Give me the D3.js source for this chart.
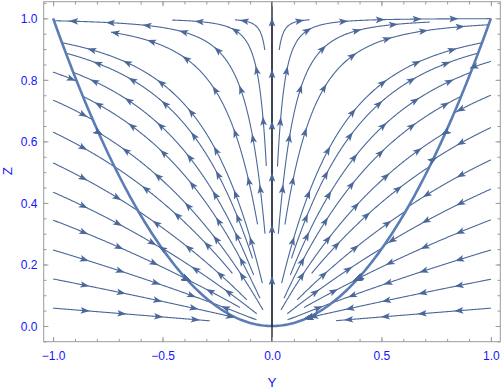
<!DOCTYPE html>
<html>
<head>
<meta charset="utf-8">
<script src="https://cdn.jsdelivr.net/npm/d3@7"></script>
<style>
  body { margin: 0; background: #fff; }
  svg { display: block; }
  text { font-family: "Liberation Sans", Arial, sans-serif; }
</style>
</head>
<body>
<div id="chart"></div>
<script>
const width = 501, height = 392;

// tick values and labels
const xMajor = [-1, -0.5, 0, 0.5, 1];
const xLabels = ["\u22121.0", "\u22120.5", "0.0", "0.5", "1.0"];
const xMinor = [-1, -0.9, -0.8, -0.7, -0.6, -0.5, -0.4, -0.3, -0.2, -0.1, 0,
                0.1, 0.2, 0.3, 0.4, 0.5, 0.6, 0.7, 0.8, 0.9, 1];
const zMajor = [0, 0.2, 0.4, 0.6, 0.8, 1.0];
const zLabels = ["0.0", "0.2", "0.4", "0.6", "0.8", "1.0"];
const zMinor = [-0.05, 0, 0.05, 0.1, 0.15, 0.2, 0.25, 0.3, 0.35, 0.4, 0.45, 0.5,
                0.55, 0.6, 0.65, 0.7, 0.75, 0.8, 0.85, 0.9, 0.95, 1, 1.05];

// streamlines: [Y start, Z start, Y end, Z end], in flow direction
const outerLeft = [
  [-1, 0.825, -0.892, 0.795], [-1, 0.734, -0.818, 0.669], [-1, 0.630, -0.720, 0.518],
  [-1, 0.530, -0.612, 0.374], [-1, 0.435, -0.501, 0.251], [-1, 0.344, -0.391, 0.153],
  [-1, 0.247, -0.274, 0.075], [-1, 0.153, -0.164, 0.027], [-1, 0.058, -0.284, 0.017]
];
const outerRight = [
  [1, 0.860, 0.917, 0.841], [1, 0.750, 0.832, 0.692], [1, 0.645, 0.735, 0.540],
  [1, 0.540, 0.623, 0.388], [1, 0.445, 0.513, 0.263], [1, 0.345, 0.392, 0.154],
  [1, 0.247, 0.274, 0.075], [1, 0.152, 0.163, 0.027], [1, 0.058, 0.292, 0.017]
];
const innerLeft = [
  [-0.033, 0.897, -0.170, 0.995], [-0.026, 0.520, -0.454, 0.992], [-0.032, 0.300, -0.996, 0.992],
  [-0.066, 0.330, -0.733, 0.956], [-0.044, 0.139, -0.960, 0.922], [-0.089, 0.220, -0.942, 0.887],
  [-0.084, 0.166, -0.908, 0.824], [-0.055, 0.090, -0.863, 0.745], [-0.041, 0.052, -0.795, 0.632],
  [-0.181, 0.171, -0.720, 0.518], [-0.115, 0.085, -0.610, 0.374], [-0.070, 0.040, -0.500, 0.251],
  [-0.146, 0.060, -0.390, 0.153], [-0.071, 0.020, -0.270, 0.075]
];
const innerRight = [
  [0.033, 0.897, 0.172, 0.995], [0.025, 0.518, 0.998, 0.996], [0.029, 0.300, 0.720, 0.985],
  [0.059, 0.330, 0.989, 0.979], [0.044, 0.139, 0.960, 0.922], [0.089, 0.220, 0.942, 0.887],
  [0.084, 0.166, 0.908, 0.824], [0.055, 0.090, 0.863, 0.745], [0.041, 0.052, 0.795, 0.632],
  [0.181, 0.171, 0.720, 0.518], [0.115, 0.085, 0.610, 0.374], [0.070, 0.040, 0.500, 0.251],
  [0.146, 0.060, 0.390, 0.153], [0.071, 0.020, 0.270, 0.075]
];
const axisStream = [[0, 0.001, 0, 1]];

const streamColor = "#4a6899";
const curveColor = "#5b7db6";
const labelColor = "#1414ff";

const x = d3.scaleLinear().domain([-1.043, 1.043]).range([43.7, 500.3]);
const z = d3.scaleLinear().domain([-0.051, 1.054]).range([341.7, 1.7]);
const [fx0, fx1] = x.range();
const [fy1, fy0] = z.range();

const svg = d3.select("#chart").append("svg")
    .attr("width", width)
    .attr("height", height);

// direction field of the flow, zero on Z = Y^2
function field(y, zz) {
    const s = Math.sign(zz - y * y);
    return [s * y, s * 2 * zz * (1 - zz) / (2 - zz)];
}

function trace(s) {
    let [y, zz, y1, z1] = s;
    const pts = [[y, zz]];
    const side = Math.sign(zz - y * y);
    const h = 0.003;
    let best = Math.hypot(y - y1, zz - z1), bestI = 0;
    for (let i = 0; i < 5000; i++) {
        const [vy, vz] = field(y, zz);
        const n = Math.hypot(vy, vz);
        if (n < 1e-12) break;
        const my = y + vy / n * h / 2, mz = zz + vz / n * h / 2;
        const [wy, wz] = field(my, mz);
        const m = Math.hypot(wy, wz);
        if (m < 1e-12) break;
        y += wy / m * h;
        zz += wz / m * h;
        if (Math.sign(zz - y * y) !== side) break;
        if (Math.abs(y) > 1.001 || zz > 1.001 || zz < 0) break;
        pts.push([y, zz]);
        const d = Math.hypot(y - y1, zz - z1);
        if (d < best) { best = d; bestI = pts.length - 1; }
        else if (d > best + 0.02) break;
    }
    return pts.slice(0, bestI + 1);
}

const streams = [...outerLeft, ...outerRight, ...innerLeft, ...innerRight, ...axisStream].map(trace);

const line = d3.line().x(d => x(d[0])).y(d => z(d[1]));

const plot = svg.append("g");
plot.append("g")
    .selectAll("path")
    .data(streams)
    .enter().append("path")
    .attr("d", line)
    .attr("fill", "none")
    .attr("stroke", streamColor)
    .attr("stroke-width", 1.1);

// parabola Z = Y^2
const curve = d3.range(-1, 1.0001, 0.01).map(v => [v, v * v]);
plot.append("path")
    .datum(curve)
    .attr("d", line)
    .attr("fill", "none")
    .attr("stroke", curveColor)
    .attr("stroke-width", 2.6);

// vertical line at Y = 0
plot.append("line")
    .attr("x1", x(0)).attr("x2", x(0))
    .attr("y1", fy0).attr("y2", fy1)
    .attr("stroke", "#000")
    .attr("stroke-width", 1.2);

// arrowheads along each stream
function arrowsFor(pts) {
    const cum = [0];
    for (let i = 1; i < pts.length; i++) {
        cum.push(cum[i - 1] + Math.hypot(pts[i][0] - pts[i - 1][0], pts[i][1] - pts[i - 1][1]));
    }
    const L = cum[cum.length - 1];
    const spots = [];
    for (let s = 0.145; s <= L - 0.012; s += 0.168) spots.push(s);
    if (!spots.length && L > 0.04) spots.push(L - 0.025);
    return spots.map(s => {
        let i = d3.bisectLeft(cum, s);
        i = Math.max(1, Math.min(pts.length - 1, i));
        const a = pts[Math.max(0, i - 2)], b = pts[Math.min(pts.length - 1, i + 1)];
        const px = x(pts[i][0]), py = z(pts[i][1]);
        let dx = x(b[0]) - x(a[0]), dy = z(b[1]) - z(a[1]);
        const n = Math.hypot(dx, dy) || 1;
        dx /= n; dy /= n;
        const len = 4.6, w = 3.3;
        const tip = [px + dx * len, py + dy * len];
        const bl = [px - dx * len - dy * w, py - dy * len + dx * w];
        const br = [px - dx * len + dy * w, py - dy * len - dx * w];
        const nb = [px - dx * len * 0.55, py - dy * len * 0.55];
        return `M${tip}L${bl}L${nb}L${br}Z`;
    });
}

plot.append("g")
    .selectAll("path")
    .data(streams.flatMap(arrowsFor))
    .enter().append("path")
    .attr("d", d => d)
    .attr("fill", streamColor)
    .attr("stroke", "none");

// frame
svg.append("rect")
    .attr("x", fx0).attr("y", fy0)
    .attr("width", fx1 - fx0).attr("height", fy1 - fy0)
    .attr("fill", "none")
    .attr("stroke", "#9b9b9b")
    .attr("stroke-width", 1);

function styleAxis(g) {
    g.select(".domain").remove();
    g.selectAll(".tick line").attr("stroke", "#9b9b9b");
}

// minor ticks on all sides
svg.append("g").attr("transform", `translate(0,${fy1})`)
    .call(d3.axisBottom(x).tickValues(xMinor).tickSize(-2.8).tickFormat(""))
    .call(styleAxis);
svg.append("g").attr("transform", `translate(0,${fy0})`)
    .call(d3.axisTop(x).tickValues(xMinor).tickSize(-2.8).tickFormat(""))
    .call(styleAxis);
svg.append("g").attr("transform", `translate(${fx0},0)`)
    .call(d3.axisLeft(z).tickValues(zMinor).tickSize(-2.8).tickFormat(""))
    .call(styleAxis);
svg.append("g").attr("transform", `translate(${fx1},0)`)
    .call(d3.axisRight(z).tickValues(zMinor).tickSize(-2.8).tickFormat(""))
    .call(styleAxis);

// major ticks
svg.append("g").attr("transform", `translate(0,${fy1})`)
    .call(d3.axisBottom(x).tickValues(xMajor).tickSize(-4.7).tickFormat((d, i) => xLabels[i]))
    .call(styleAxis)
    .call(g => g.selectAll("text")
        .attr("y", 18.4).attr("dy", null)
        .attr("fill", labelColor).attr("font-size", 12)
        .attr("font-family", "Liberation Sans, Arial, sans-serif"));
svg.append("g").attr("transform", `translate(0,${fy0})`)
    .call(d3.axisTop(x).tickValues(xMajor).tickSize(-4.7).tickFormat(""))
    .call(styleAxis);
svg.append("g").attr("transform", `translate(${fx0},0)`)
    .call(d3.axisLeft(z).tickValues(zMajor).tickSize(-4.7).tickFormat((d, i) => zLabels[i]))
    .call(styleAxis)
    .call(g => g.selectAll("text")
        .attr("x", -6.2).attr("dy", "0.35em")
        .attr("fill", labelColor).attr("font-size", 12)
        .attr("font-family", "Liberation Sans, Arial, sans-serif"));
svg.append("g").attr("transform", `translate(${fx1},0)`)
    .call(d3.axisRight(z).tickValues(zMajor).tickSize(-4.7).tickFormat(""))
    .call(styleAxis);

// axis titles
svg.append("text")
    .attr("x", x(0)).attr("y", 386.5)
    .attr("text-anchor", "middle")
    .attr("fill", labelColor)
    .attr("font-size", 13.5)
    .text("Y");
svg.append("text")
    .attr("transform", `translate(11.5,${z(0.5) - 1}) rotate(-90)`)
    .attr("text-anchor", "middle")
    .attr("fill", labelColor)
    .attr("font-size", 13.5)
    .text("Z");
</script>
</body>
</html>
